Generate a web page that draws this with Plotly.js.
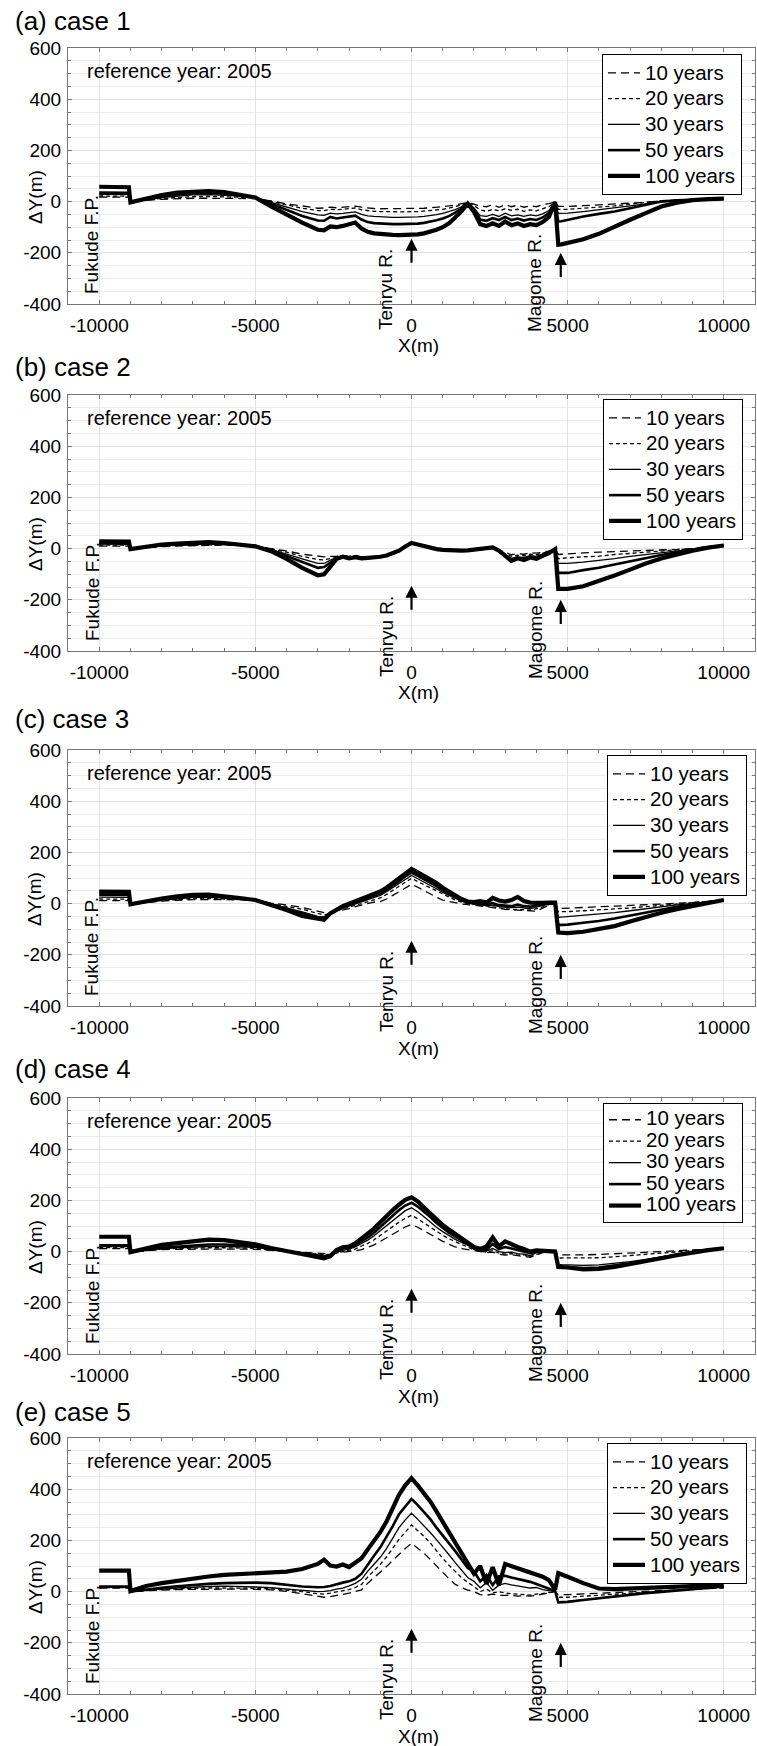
<!DOCTYPE html>
<html><head><meta charset="utf-8">
<script src="https://cdn.plot.ly/plotly-3.0.1.min.js"></script>
<style>html,body{margin:0;padding:0;background:#fff}#chart{width:757px;height:1746px}</style>
</head><body><div id="chart"></div>
<script>
// ---------------- DATA ----------------
const X = [-10000, -9500, -9050, -9000,
  -8500, -8000, -7500, -7000, -6500, -6000, -5500, -5000, -4500, -4000, -3500, -3000,
  -2800, -2600, -2400, -2200, -2000, -1800, -1600, -1400, -1200, -1000, -800, -600, -400, -200,
  0, 200, 400, 600, 800, 1000, 1200, 1400, 1600, 1800,
  2000, 2200, 2400, 2600, 2800, 3000, 3200, 3400, 3600, 3800, 4000, 4200, 4400, 4600,
  4700, 4800,
  5000, 5500, 6000, 6500, 7000, 7500, 8000, 8500, 9000, 9500, 10000];

const seriesNames = ['10 years', '20 years', '30 years', '50 years', '100 years'];
const panelTitles = ['(a) case 1', '(b) case 2', '(c) case 3', '(d) case 4', '(e) case 5'];
const refYearText = 'reference year: 2005';
const xTickVals = [-10000, -5000, 0, 5000, 10000];
const xTickText = ['-10000', '-5000', '0', '5000', '10000'];
const yTickVals = [-400, -200, 0, 200, 400, 600];
const yTickText = ['-400', '-200', '0', '200', '400', '600'];
const tenryuX = 0;
const magomeX = 4780;

// case 1
const case1_10 = [18, 18, 17, -3,
  5, 9, 12, 13, 13, 12, 12, 12, 3, -9, -17, -26,
  -25, -22, -24, -22, -20, -18, -22, -25, -27, -28, -28, -28, -28, -28,
  -28, -27, -26, -24, -22, -20, -17, -13, -8, -3,
  -10, -18, -20, -12, -22, -12, -20, -14, -22, -16, -20, -12, -8, -2,
  -19, -19,
  -19, -16, -13, -9, -6, -3, 4, 5, 8, 10, 12];
const case1_20 = [22, 22, 21, -3,
  6, 12, 16, 19, 20, 19, 17, 14, 0, -13, -26, -35,
  -35, -30, -32, -30, -28, -25, -32, -36, -38, -39, -40, -40, -40, -40,
  -40, -39, -37, -35, -33, -30, -26, -20, -13, -4,
  -15, -32, -38, -30, -36, -28, -34, -30, -38, -32, -36, -28, -20, -2,
  -30, -30,
  -30, -26, -22, -17, -10, -4, 3, 5, 8, 10, 12];
const case1_30 = [28, 28, 27, -3,
  8, 16, 22, 26, 27, 25, 21, 15, -4, -22, -39, -52,
  -54, -45, -48, -46, -42, -40, -50, -56, -58, -60, -61, -62, -62, -62,
  -62, -60, -58, -55, -51, -46, -40, -31, -20, -5,
  -25, -55, -58, -50, -58, -45, -56, -52, -58, -52, -56, -48, -35, -2,
  -46, -46,
  -45, -39, -32, -26, -17, -9, 0, 5, 8, 10, 12];
const case1_50 = [35, 35, 34, -3,
  10, 20, 28, 33, 34, 31, 25, 16, -9, -32, -56, -74,
  -75, -60, -66, -62, -58, -55, -70, -80, -84, -86, -87, -88, -88, -88,
  -88, -86, -83, -79, -73, -66, -57, -43, -27, -6,
  -30, -70, -75, -65, -72, -60, -72, -66, -74, -68, -72, -62, -45, -2,
  -78, -77,
  -71, -58, -48, -39, -26, -13, 0, 5, 8, 10, 12];
const case1_100 = [58, 58, 56, -3,
  12, 26, 35, 40, 41, 37, 28, 16, -19, -52, -82, -110,
  -112, -97, -100, -95, -88, -82, -105, -118, -124, -127, -129, -130, -131, -131,
  -130, -128, -124, -118, -110, -100, -85, -62, -38, -8,
  -40, -88, -95, -85, -95, -78, -92, -85, -95, -88, -92, -80, -60, -2,
  -168, -167,
  -162, -147, -126, -97, -71, -45, -19, -4, 6, 10, 12];

// case 2
const case2_10 = [10, 10, 10, -2,
  4, 8, 10, 12, 14, 14, 12, 10, 0, -9, -22, -30,
  -32, -30, -30, -26, -30, -26, -32, -33, -32, -30, -25, -16, -6, 8,
  20, 15, 9, 3, -2, -5, -7, -8, -8, -7,
  -4, -3, 2, 5, -4, -15, -24, -20, -22, -16, -18, -14, -10, -2,
  -23, -22,
  -20, -17, -14, -12, -10, -9, -6, -3, 1, 8, 12];
const case2_20 = [14, 14, 13, -2,
  5, 10, 12, 14, 15, 15, 12, 10, -1, -14, -30, -43,
  -44, -38, -34, -30, -34, -28, -34, -34, -33, -30, -26, -17, -7, 8,
  21, 15, 9, 3, -2, -5, -7, -8, -8, -7,
  -4, -3, 2, 5, -5, -20, -30, -26, -28, -22, -24, -18, -12, -2,
  -40, -38,
  -36, -32, -30, -23, -19, -14, -10, -6, 0, 7, 12];
const case2_30 = [18, 18, 17, -2,
  6, 12, 14, 16, 18, 17, 13, 10, -3, -20, -40, -58,
  -58, -45, -36, -35, -38, -30, -36, -35, -34, -31, -26, -17, -7, 8,
  22, 16, 9, 3, -2, -5, -7, -8, -8, -7,
  -4, -3, 2, 5, -6, -25, -38, -32, -35, -28, -30, -22, -14, -2,
  -58, -58,
  -58, -53, -47, -39, -30, -23, -17, -9, -2, 6, 12];
const case2_50 = [22, 22, 21, -2,
  7, 13, 16, 18, 20, 19, 15, 10, -6, -28, -52, -75,
  -72, -55, -38, -34, -36, -32, -36, -36, -34, -32, -27, -18, -8, 8,
  22, 16, 9, 3, -2, -5, -7, -8, -8, -7,
  -4, -3, 2, 5, -8, -28, -44, -36, -40, -32, -36, -25, -16, -2,
  -95, -95,
  -95, -84, -75, -62, -49, -36, -25, -14, -4, 5, 12];
const case2_100 = [28, 28, 27, -2,
  9, 16, 20, 22, 25, 22, 17, 9, -10, -40, -75, -104,
  -100, -70, -40, -32, -38, -34, -38, -36, -35, -32, -27, -18, -8, 8,
  22, 16, 9, 3, -2, -5, -7, -8, -8, -7,
  -4, -3, 2, 5, -8, -30, -48, -38, -45, -35, -40, -28, -18, -2,
  -157, -157,
  -157, -147, -127, -105, -82, -58, -39, -22, -8, 4, 12];

// case 3
const case3_10 = [12, 12, 12, -3,
  4, 10, 13, 16, 16, 15, 14, 14, 2, -5, -15, -30,
  -35, -34, -30, -26, -20, -12, -6, 0, 6, 8, 18, 32, 46, 62,
  75, 64, 50, 38, 25, 14, 8, 2, -2, -4,
  -6, -8, -12, -16, -20, -22, -24, -26, -28, -28, -30, -18, -6, 0,
  -19, -19,
  -18, -16, -14, -11, -8, -5, -2, 1, 4, 9, 14];
const case3_20 = [18, 18, 17, -3,
  5, 12, 16, 20, 20, 18, 16, 14, 0, -10, -22, -38,
  -45, -36, -28, -22, -15, -6, 0, 8, 16, 22, 36, 52, 68, 85,
  99, 86, 74, 62, 48, 35, 25, 14, 6, 0,
  -2, -6, -10, -12, -18, -20, -22, -22, -24, -26, -20, -14, -4, 2,
  -32, -32,
  -31, -28, -25, -21, -17, -12, -7, -2, 2, 8, 14];
const case3_30 = [25, 25, 24, -3,
  6, 14, 19, 24, 24, 22, 18, 14, -2, -15, -32, -50,
  -52, -36, -26, -18, -10, -1, 6, 15, 25, 32, 46, 62, 79, 96,
  110, 97, 85, 73, 58, 44, 33, 20, 10, 2,
  0, -4, -8, -6, -12, -14, -16, -14, -18, -20, -14, -8, 0, 4,
  -54, -53,
  -52, -47, -42, -35, -28, -20, -12, -5, 0, 7, 14];
const case3_50 = [35, 35, 34, -3,
  7, 17, 23, 28, 29, 26, 20, 14, -3, -20, -38, -55,
  -57, -38, -24, -14, -5, 5, 12, 22, 32, 40, 54, 70, 88, 106,
  121, 108, 95, 83, 68, 52, 40, 25, 14, 5,
  2, 0, -4, 2, -6, -8, -10, -4, -10, -12, -6, -2, 2, 4,
  -84, -84,
  -82, -75, -68, -58, -47, -36, -24, -12, -4, 5, 14];
const case3_100 = [47, 47, 46, -3,
  10, 20, 28, 34, 35, 30, 22, 14, -5, -25, -48, -61,
  -63, -38, -22, -10, 0, 10, 18, 28, 38, 47, 62, 80, 98, 118,
  135, 122, 108, 96, 80, 62, 48, 30, 18, 8,
  6, 10, 4, 22, 12, 8, 14, 26, 10, 4, 2, 3, 4, 4,
  -113, -115,
  -115, -110, -100, -88, -70, -52, -36, -22, -10, 3, 14];

// case 4
const case4_10 = [12, 12, 12, -2,
  4, 8, 9, 10, 10, 10, 10, 9, 5, 1, -2, -7,
  -8, -7, -5, -2, 0, 3, 8, 16, 26, 40, 55, 68, 82, 96,
  106, 95, 82, 70, 54, 40, 28, 18, 12, 8,
  2, 0, -4, -2, -10, -14, -12, -16, -18, -22, -14, -4, 0, 0,
  -13, -13,
  -14, -13, -11, -9, -6, -3, 0, 3, 6, 9, 13];
const case4_20 = [16, 16, 16, -2,
  5, 10, 12, 14, 15, 15, 14, 13, 7, 1, -4, -10,
  -12, -10, -5, 0, 4, 10, 22, 32, 46, 64, 82, 98, 115, 130,
  142, 128, 112, 96, 78, 64, 50, 38, 28, 18,
  6, 2, -2, 4, -6, -10, -8, -14, -12, -20, -10, -2, 2, 0,
  -25, -25,
  -26, -26, -24, -20, -16, -11, -6, -1, 4, 8, 13];
const case4_30 = [20, 20, 20, -2,
  6, 12, 15, 18, 20, 20, 19, 17, 9, 1, -5, -13,
  -16, -12, -2, 5, 10, 18, 32, 45, 62, 82, 102, 122, 142, 160,
  171, 156, 136, 115, 95, 78, 62, 48, 36, 25,
  10, 6, 2, 12, 0, -4, -2, -8, -10, -16, -4, 0, 2, 0,
  -50, -51,
  -52, -54, -52, -46, -39, -30, -20, -10, 0, 7, 13];
const case4_50 = [25, 25, 25, -2,
  8, 15, 20, 25, 28, 28, 25, 22, 11, 2, -7, -16,
  -20, -14, 2, 12, 15, 25, 40, 55, 74, 96, 120, 142, 162, 180,
  191, 176, 156, 135, 112, 92, 74, 58, 44, 30,
  12, 14, 6, 30, 10, 18, 12, 6, -2, -6, 0, 0, 2, 0,
  -58, -60,
  -60, -64, -62, -55, -46, -35, -24, -12, -2, 6, 13];
const case4_100 = [58, 58, 58, -2,
  14, 26, 33, 40, 47, 45, 38, 28, 14, 3, -9, -20,
  -26, -18, 6, 17, 20, 32, 50, 68, 90, 115, 140, 162, 183, 202,
  212, 196, 172, 148, 125, 104, 86, 70, 52, 38,
  18, 10, 20, 55, 20, 40, 28, 18, 10, 0, 5, 2, 2, 0,
  -60, -62,
  -62, -70, -68, -60, -50, -38, -26, -14, -3, 6, 13];

// case 5
const case5_10 = [14, 14, 14, 0,
  4, 6, 8, 9, 10, 10, 10, 9, 7, 1, -8, -18,
  -22, -20, -16, -12, -6, 0, 7, 33, 54, 75, 98, 122, 147, 168,
  189, 170, 150, 126, 99, 75, 51, 28, 16, 6,
  0, -12, -14, -10, -15, -14, -15, -18, -16, -18, -14, -12, -6, 0,
  -12, -12,
  -12, -9, -6, -3, 0, 3, 5, 8, 10, 12, 14];
const case5_20 = [16, 16, 16, 0,
  5, 8, 11, 13, 14, 14, 14, 13, 11, 6, 0, -8,
  -10, -6, -2, 4, 8, 16, 28, 57, 81, 106, 135, 169, 204, 232,
  260, 238, 216, 190, 159, 130, 103, 77, 55, 36,
  20, 0, 10, -5, 0, -6, -8, -10, -12, -14, -10, -8, -4, 0,
  -22, -22,
  -22, -18, -14, -10, -6, -2, 2, 6, 10, 13, 16];
const case5_30 = [18, 18, 18, 0,
  6, 10, 14, 18, 20, 21, 20, 18, 15, 10, 4, 0,
  1, 4, 10, 14, 22, 32, 48, 80, 107, 134, 168, 208, 250, 280,
  306, 282, 258, 231, 203, 175, 144, 113, 83, 55,
  40, 15, 35, 5, 25, 32, 26, 22, 20, 14, 16, 8, 4, 0,
  -40, -40,
  -38, -32, -25, -18, -11, -5, 0, 5, 10, 14, 18];
const case5_50 = [20, 20, 20, 0,
  8, 15, 21, 26, 30, 33, 35, 35, 33, 27, 20, 17,
  18, 22, 30, 35, 40, 50, 70, 107, 140, 173, 212, 256, 302, 332,
  362, 338, 312, 283, 250, 220, 190, 158, 125, 92,
  80, 40, 65, 25, 60, 62, 55, 50, 45, 38, 30, 20, 12, 2,
  -42, -42,
  -40, -33, -26, -19, -12, -6, -1, 4, 10, 15, 20];
const case5_100 = [82, 82, 82, 2,
  22, 33, 43, 52, 59, 65, 69, 72, 74, 78, 88, 108,
  125, 102, 98, 106, 96, 112, 130, 165, 198, 232, 274, 326, 378, 415,
  443, 415, 384, 352, 313, 273, 231, 188, 149, 111,
  70, 100, 30, 95, 25, 108, 100, 92, 85, 75, 70, 58, 45, 8,
  72, 68,
  58, 33, 12, 10, 12, 14, 16, 18, 20, 23, 26];

const caseData = [
  [case1_10, case1_20, case1_30, case1_50, case1_100],
  [case2_10, case2_20, case2_30, case2_50, case2_100],
  [case3_10, case3_20, case3_30, case3_50, case3_100],
  [case4_10, case4_20, case4_30, case4_50, case4_100],
  [case5_10, case5_20, case5_30, case5_50, case5_100]
];

// ---------------- LAYOUT / STYLE ----------------
const W = 757, H = 1746;
const FONT = 'Liberation Sans, Arial, Helvetica, sans-serif';
const panelTops = [48, 395, 750, 1098, 1438];
const titleYs = [21, 367, 719, 1069, 1412];
const legendPos = [[602, 54], [603, 399], [607, 755], [603, 1103], [607, 1443]];
const legendRowFont = [17.5, 17.5, 17.5, 14.2, 17.5]; // controls row spacing
const panelH = 256, plotL = 68, plotR = 755;
const lineStyles = [
  {dash: '8px,5px', width: 1.3},
  {dash: '4px,3px', width: 1.3},
  {dash: 'solid', width: 1.3},
  {dash: 'solid', width: 2.6},
  {dash: 'solid', width: 4.2}
];
const fx = px => px / W;
const fy = py => 1 - py / H;

caseData.forEach((arrs, p) => arrs.forEach((a, s) => {
  if (a.length !== X.length) throw new Error('length mismatch panel ' + (p + 1) + ' series ' + s + ': ' + a.length);
}));

const traces = [];
const layout = {
  width: W, height: H,
  margin: {l: 0, r: 0, t: 0, b: 0},
  paper_bgcolor: '#fff', plot_bgcolor: '#fff',
  font: {family: FONT, color: '#000', size: 19},
  showlegend: true,
  annotations: []
};

for (let p = 0; p < 5; p++) {
  const n = p === 0 ? '' : String(p + 1);
  const xa = 'x' + n, ya = 'y' + n;
  const legName = 'legend' + n;
  const top = panelTops[p];
  for (let s = 0; s < 5; s++) {
    traces.push({
      x: X, y: caseData[p][s], mode: 'lines',
      name: '<span style="font-size:20.5px">' + seriesNames[s] + '</span>',
      xaxis: xa, yaxis: ya, legend: legName,
      line: {color: '#000', width: lineStyles[s].width, dash: lineStyles[s].dash},
      hoverinfo: 'skip'
    });
  }
  layout['xaxis' + n] = {
    domain: [fx(plotL), fx(plotR)], anchor: ya, range: [-11000, 11000],
    tickmode: 'array', tickvals: xTickVals, ticktext: xTickText,
    ticks: 'inside', ticklen: 4, tickcolor: '#777', tickwidth: 1,
    minor: {tickmode: 'linear', tick0: 0, dtick: 1000, ticks: 'inside', ticklen: 3, tickcolor: '#777', showgrid: false},
    showline: true, linecolor: '#777', linewidth: 1, mirror: 'allticks',
    showgrid: true, gridcolor: '#e4e4e4', gridwidth: 1, zeroline: false,
    tickfont: {family: FONT, size: 19, color: '#000'}, ticklabelstandoff: 4,
    automargin: false, fixedrange: true
  };
  layout['yaxis' + n] = {
    domain: [fy(top + panelH), fy(top)], anchor: xa, range: [-400, 600],
    tickmode: 'array', tickvals: yTickVals, ticktext: yTickText,
    ticks: 'inside', ticklen: 4, tickcolor: '#777', tickwidth: 1,
    minor: {tickmode: 'linear', tick0: 0, dtick: 50, ticks: 'inside', ticklen: 3, tickcolor: '#777', showgrid: true, gridcolor: '#ececec', gridwidth: 1},
    showline: true, linecolor: '#777', linewidth: 1, mirror: 'allticks',
    showgrid: true, gridcolor: '#e0e0e0', gridwidth: 1, zeroline: false,
    tickfont: {family: FONT, size: 19, color: '#000'}, ticklabelstandoff: 2,
    automargin: false, fixedrange: true
  };
  layout[legName] = {
    x: fx(legendPos[p][0]), y: fy(legendPos[p][1]), xref: 'paper', yref: 'paper',
    xanchor: 'left', yanchor: 'top', bgcolor: '#fff', bordercolor: '#000', borderwidth: 1,
    font: {family: FONT, size: legendRowFont[p], color: '#000'}, traceorder: 'normal', itemwidth: 32,
    tracegroupgap: 0
  };
  const A = layout.annotations;
  A.push({text: panelTitles[p], xref: 'paper', yref: 'paper', x: fx(13), y: fy(titleYs[p]),
    xanchor: 'left', yanchor: 'middle', showarrow: false, font: {family: FONT, size: 26, color: '#000'}});
  A.push({text: refYearText, xref: 'paper', yref: 'paper', x: fx(85), y: fy(top + 23),
    xanchor: 'left', yanchor: 'middle', showarrow: false, font: {family: FONT, size: 20, color: '#000'}});
  A.push({text: 'ΔY(m)', xref: 'paper', yref: 'paper', x: fx(35), y: fy(top + 149), textangle: -90,
    xanchor: 'center', yanchor: 'middle', showarrow: false, borderpad: 0, font: {family: FONT, size: 19, color: '#000'}});
  A.push({text: 'X(m)', xref: 'paper', yref: 'paper', x: fx(418), y: fy(top + panelH + 42),
    xanchor: 'center', yanchor: 'middle', showarrow: false, borderpad: 0, font: {family: FONT, size: 19, color: '#000'}});
  A.push({text: 'Fukude F.P.', xref: 'paper', yref: 'paper', x: fx(92), y: fy(top + 197), textangle: -90,
    xanchor: 'center', yanchor: 'middle', showarrow: false, borderpad: 0, font: {family: FONT, size: 19, color: '#000'}});
  A.push({text: 'Tenryu R.', xref: 'paper', yref: 'paper', x: fx(386), y: fy(top + 241), textangle: -90,
    xanchor: 'center', yanchor: 'middle', showarrow: false, borderpad: 0, font: {family: FONT, size: 19, color: '#000'}});
  A.push({text: 'Magome R.', xref: 'paper', yref: 'paper', x: fx(535), y: fy(top + 235), textangle: -90,
    xanchor: 'center', yanchor: 'middle', showarrow: false, borderpad: 0, font: {family: FONT, size: 19, color: '#000'}});
  A.push({text: '', xref: xa, yref: ya, x: tenryuX, y: -145, axref: xa, ayref: ya, ax: tenryuX, ay: -245,
    showarrow: true, arrowhead: 2, arrowsize: 1.1, arrowwidth: 2.2, arrowcolor: '#000', standoff: 0});
  A.push({text: '', xref: xa, yref: ya, x: magomeX, y: -200, axref: xa, ayref: ya, ax: magomeX, ay: -300,
    showarrow: true, arrowhead: 2, arrowsize: 1.1, arrowwidth: 2.2, arrowcolor: '#000', standoff: 0});
}

Plotly.newPlot('chart', traces, layout, {staticPlot: true, displayModeBar: false});
</script>
</body></html>
